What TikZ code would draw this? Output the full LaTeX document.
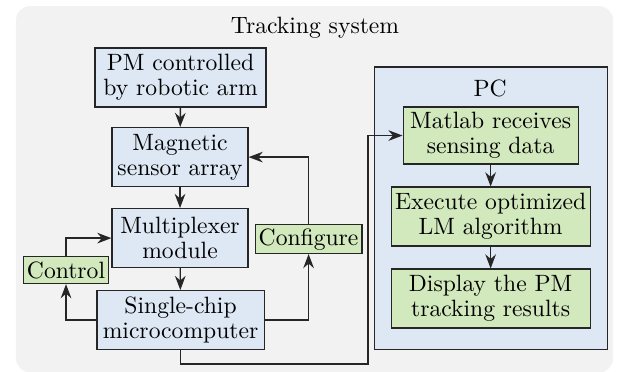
\documentclass[tikz,border=0pt]{standalone}
\usepackage{tikz}
\usetikzlibrary{arrows.meta}
\usetikzlibrary{positioning}
\usetikzlibrary{backgrounds}

\begin{document}
\begin{tikzpicture}[thin,
  block/.style = {draw = black!85, line width = 0.5pt, fill = hw, align = center, inner sep = 1.5pt,
    minimum height = 0.878cm, font = \fontsize{10}{10.6}\selectfont},
  soft/.style = {block, fill = sw},
  flag/.style = {draw = black!85, line width = 0.5pt, fill = sw, inner sep = 1.5pt, minimum height = 0.4cm},
  link/.style = {draw = black!85, line width = 0.6pt, -{Stealth[length = 6pt, width = 4.5pt]}}]
\definecolor{hw}{HTML}{DDE8F4}
\definecolor{sw}{HTML}{D2E8BD}
\definecolor{frame}{HTML}{F2F2F2}

\useasboundingbox (0, 0) rectangle (9.2, 5.525);
\fill[frame, rounded corners = 6pt] (0.238, -0.02) rectangle (9.128, 5.435);
\node (title) at (4.69, 5.11) {Tracking system};

% PC side
\node[draw = black!85, line width = 0.5pt, fill = hw, minimum width = 3.469cm, minimum height = 4.199cm] (pc) at (7.304, 2.427) {};
\node (pclabel) at (7.296, 4.214) {PC};

% hardware chain
\node[block, minimum width = 2.546cm] (pm) at (2.688, 4.370) {PM controlled\\by robotic arm};
\node[block, minimum width = 2.025cm] (sensor) at (2.680, 3.186) {Magnetic\\sensor array};
\node[block, minimum width = 2.025cm] (mux) at (2.680, 1.980) {Multiplexer\\module};
\node[block, minimum width = 2.487cm] (mcu) at (2.688, 0.759) {Single-chip\\microcomputer};

\node[flag] (ctrl) at (0.983, 1.504) {Control};
\node[flag] (config) at (4.594, 1.965) {Configure};

% software chain
\node[soft, minimum width = 2.606cm, minimum height = 0.849cm] (matlab) at (7.304, 3.507) {Matlab receives\\sensing data};
\node[soft, minimum width = 2.963cm] (lm) at (7.304, 2.301) {Execute optimized\\LM algorithm};
\node[soft, minimum width = 2.963cm] (show) at (7.304, 1.080) {Display the PM\\tracking results};

\coordinate (bus) at (5.480, 0.104);

\draw[link] (pm) -- (sensor);
\draw[link] (sensor) -- (mux);
\draw[link] (mux) -- (mcu);
\draw[link] (mcu.west) -| (ctrl.south);
\draw[link] (ctrl.north) |- (mux.west);
\draw[link] (mcu.east) -| (config.south);
\draw[link] (config.north) |- (sensor.east);
\draw[link] (mcu.south) |- (bus) |- (matlab.west);
\draw[link] (matlab) -- (lm);
\draw[link] (lm) -- (show);
\end{tikzpicture}
\end{document}
